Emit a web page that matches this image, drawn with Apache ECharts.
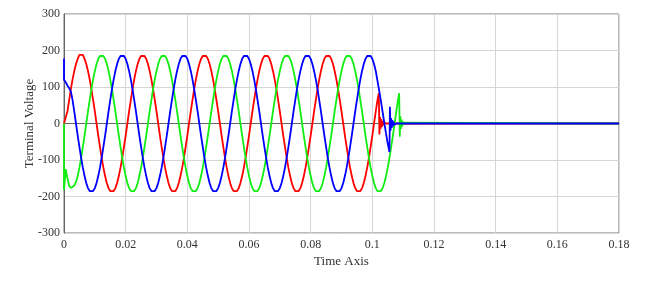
<!DOCTYPE html>
<html>
<head>
<meta charset="utf-8">
<script src="https://cdn.jsdelivr.net/npm/echarts@6/dist/echarts.min.js"></script>
<style>
html,body{margin:0;padding:0;background:#fff;}
#chart{width:657px;height:284px;}
</style>
</head>
<body>
<div id="chart"></div>
<script>
// Uniform sampling step of the main waveform arrays (seconds)
const sampleStep = 0.1 / 180;

// Axis ticks
const xTicks = [0, 0.02, 0.04, 0.06, 0.08, 0.1, 0.12, 0.14, 0.16, 0.18];
const yTicks = [-300, -200, -100, 0, 100, 200, 300];

// Phase A (red) samples, t = k * sampleStep
const redValues = [0,
 0,33,64,94,121,144,163,177,188,192,188,177,163,144,121,94,64,33,0,-33,-64,-94,-121,-144,-163,-177,-185,-187,-185,-177,-163,-144,-121,-94,-64,-33,
 0,33,64,94,121,144,163,177,185,188,185,177,163,144,121,94,64,33,0,-33,-64,-94,-121,-144,-163,-177,-185,-187,-185,-177,-163,-144,-121,-94,-64,-33,
 0,33,64,94,121,144,163,177,185,188,185,177,163,144,121,94,64,33,0,-33,-64,-94,-121,-144,-163,-177,-185,-187,-185,-177,-163,-144,-121,-94,-64,-33,
 0,33,64,94,121,144,163,177,185,188,185,177,163,144,121,94,64,33,0,-33,-64,-94,-121,-144,-163,-177,-185,-187,-185,-177,-163,-144,-121,-94,-64,-33,
 0,33,64,94,121,144,163,177,185,188,185,177,163,144,121,94,64,33,0,-33,-64,-94,-121,-144,-163,-177,-185,-187,-185,-177,-163,-144,-121,-94,-64,-33,
 0,33,64];
const redHeadT = [];
const redHeadV = [];
const redTailT = [0.1021, 0.1023, 0.1025, 0.1027, 0.1029, 0.1031, 0.1033, 0.1035, 0.1037, 0.104, 0.1045, 0.18];
const redTailV = [83, -30, 18, -14, 12, -9, 7, -5, 3, -1, 0, 0];

// Phase B (green) samples
const greenValues = [
 -182,-125,-150,-170,-177,-176,-170,-160,-144,-121,-94,-64,-33,
 0,33,64,94,121,144,163,177,185,188,185,177,163,144,121,94,64,33,0,-33,-64,-94,-121,-144,-163,-177,-185,-187,-185,-177,-163,-144,-121,-94,-64,-33,
 0,33,64,94,121,144,163,177,185,188,185,177,163,144,121,94,64,33,0,-33,-64,-94,-121,-144,-163,-177,-185,-187,-185,-177,-163,-144,-121,-94,-64,-33,
 0,33,64,94,121,144,163,177,185,188,185,177,163,144,121,94,64,33,0,-33,-64,-94,-121,-144,-163,-177,-185,-187,-185,-177,-163,-144,-121,-94,-64,-33,
 0,33,64,94,121,144,163,177,185,188,185,177,163,144,121,94,64,33,0,-33,-64,-94,-121,-144,-163,-177,-185,-187,-185,-177,-163,-144,-121,-94,-64,-33,
 0,33,64,94,121,144,163,177,185,188,185,177,163,144,121,94,64,33,0,-33,-64,-94,-121,-144,-163,-177,-185,-187,-185,-177,-163,-144,-121,-94,-64,-33,
 0,33,64];
const greenHeadT = [0];
const greenHeadV = [0];
const greenTailT = [0.1087, 0.1089, 0.1091, 0.1093, 0.1095, 0.1097, 0.1099, 0.1101, 0.1104, 0.1108, 0.18];
const greenTailV = [83, -36, 20, -15, 11, -8, 6, -4, 2, 0, 0];

// Phase C (blue) samples
const blueValues = [
 120,113,104,97,88,64,33,0,-33,-64,-94,-121,-144,-163,-177,-185,-188,-185,-177,-163,-144,-121,-94,-64,-33,
 0,33,64,94,121,144,163,177,185,188,185,177,163,144,121,94,64,33,0,-33,-64,-94,-121,-144,-163,-177,-185,-187,-185,-177,-163,-144,-121,-94,-64,-33,
 0,33,64,94,121,144,163,177,185,188,185,177,163,144,121,94,64,33,0,-33,-64,-94,-121,-144,-163,-177,-185,-187,-185,-177,-163,-144,-121,-94,-64,-33,
 0,33,64,94,121,144,163,177,185,188,185,177,163,144,121,94,64,33,0,-33,-64,-94,-121,-144,-163,-177,-185,-187,-185,-177,-163,-144,-121,-94,-64,-33,
 0,33,64,94,121,144,163,177,185,188,185,177,163,144,121,94,64,33,0,-33,-64,-94,-121,-144,-163,-177,-185,-187,-185,-177,-163,-144,-121,-94,-64,-33,
 0,33,64,94,121,144,163,177,185,188,185,177,163,144,117,90,62,32,2,-28,-55,-78];
const blueHeadT = [0];
const blueHeadV = [178];
const blueTailT = [0.1057, 0.1059, 0.1061, 0.1063, 0.1065, 0.1067, 0.1069, 0.1071, 0.1074, 0.1078, 0.18];
const blueTailV = [46, -20, 15, -12, 9, -7, 5, -3, 2, 0, 0];

function build(headT, headV, values, tailT, tailV) {
  const d = [];
  headT.forEach((t, i) => d.push([t, headV[i]]));
  values.forEach((v, k) => d.push([k * sampleStep, v]));
  tailT.forEach((t, i) => d.push([t, tailV[i]]));
  return d;
}

const font = 'Liberation Serif';
const textColor = '#333';

const chart = echarts.init(document.getElementById('chart'), null, {renderer: 'canvas'});
chart.setOption({
  animation: false,
  backgroundColor: '#fff',
  grid: {left: 64, right: 38, top: 14, bottom: 51, show: true, borderColor: '#777', borderWidth: 1, backgroundColor: 'transparent'},
  xAxis: {
    type: 'value',
    min: xTicks[0], max: xTicks[xTicks.length - 1], interval: 0.02,
    name: 'Time Axis', nameLocation: 'middle', nameGap: 22, nameMoveOverlap: false,
    nameTextStyle: {fontFamily: font, fontSize: 13, color: textColor},
    axisLine: {show: true, lineStyle: {color: '#666', width: 1}},
    axisTick: {show: false},
    axisLabel: {fontFamily: font, fontSize: 12, color: textColor, margin: 6,
      formatter: v => String(+v.toFixed(2))},
    splitLine: {show: true, lineStyle: {color: '#d6d6d6', width: 1}}
  },
  yAxis: {
    type: 'value',
    min: yTicks[0], max: yTicks[yTicks.length - 1], interval: 100,
    name: 'Terminal Voltage', nameLocation: 'middle', nameGap: 28, nameMoveOverlap: false,
    nameTextStyle: {fontFamily: font, fontSize: 13, color: textColor},
    axisLine: {show: true, lineStyle: {color: '#666', width: 1}},
    axisTick: {show: false},
    axisLabel: {fontFamily: font, fontSize: 12, color: textColor, margin: 4},
    splitLine: {show: true, lineStyle: {color: '#d6d6d6', width: 1}}
  },
  series: [
    {type: 'line', name: 'A', showSymbol: false, symbol: 'none', data: build(redHeadT, redHeadV, redValues, redTailT, redTailV),
     lineStyle: {color: '#ff0000', width: 1.8}, itemStyle: {color: '#ff0000'}},
    {type: 'line', name: 'B', showSymbol: false, symbol: 'none', data: build(greenHeadT, greenHeadV, greenValues, greenTailT, greenTailV),
     lineStyle: {color: '#11ee11', width: 1.8}, itemStyle: {color: '#11ee11'}},
    {type: 'line', name: 'C', showSymbol: false, symbol: 'none', data: build(blueHeadT, blueHeadV, blueValues, blueTailT, blueTailV),
     lineStyle: {color: '#0000ff', width: 1.8}, itemStyle: {color: '#0000ff'}}
  ]
});
</script>
</body>
</html>
